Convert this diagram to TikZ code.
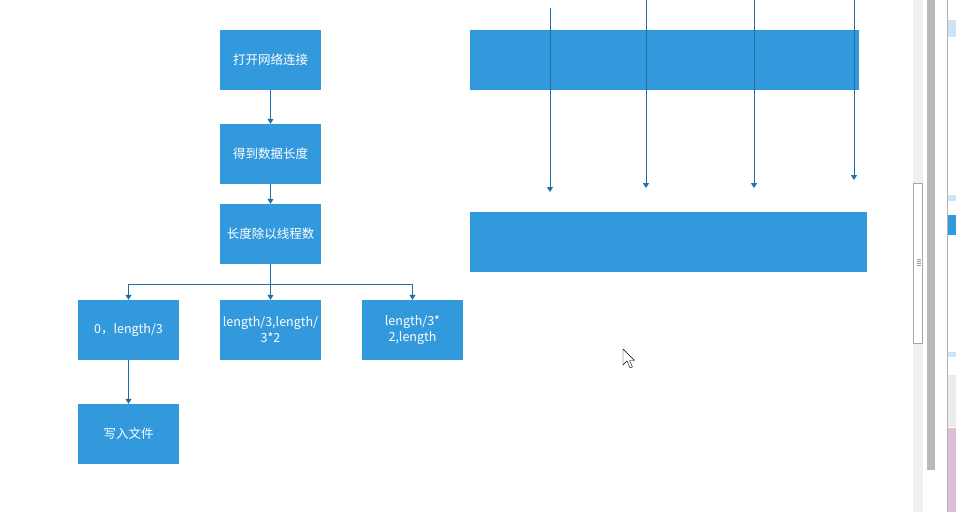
\documentclass[tikz,border=0pt]{standalone}
\usepackage{fontspec}
\setmainfont{Noto Sans CJK SC}
\usetikzlibrary{arrows.meta}
\definecolor{boxblue}{RGB}{51,153,221}
\definecolor{linkblue}{RGB}{30,110,170}
\definecolor{barpale}{RGB}{205,228,245}
\definecolor{barpink}{RGB}{222,190,215}
\tikzset{
  stepbox/.style={fill=boxblue, text=white, minimum width=101pt, minimum height=60pt,
    inner sep=0pt, align=center, font=\fontsize{12.5}{16}\selectfont},
  link/.style={draw=linkblue, line width=1pt, -{Triangle[width=6pt,length=5pt]}}
}
\begin{document}
\begin{tikzpicture}[x=1pt, y=-1pt]
  \useasboundingbox (0,0) rectangle (956,512);
  % left flow
  \node[stepbox] (open)   at (270.5,60)  {打开网络连接};
  \node[stepbox] (size)   at (270.5,154) {得到数据长度};
  \node[stepbox] (divide) at (270.5,234) {长度除以线程数};
  \node[stepbox] (part1)  at (128.5,330) {0，length/3};
  \node[stepbox] (part2)  at (270.5,330) {length/3,length/\\3*2};
  \node[stepbox] (part3)  at (412.5,330) {length/3*\\2,length};
  \node[stepbox] (write)  at (128.5,434) {写入文件};
  \draw[link] (open) -- (size);
  \draw[link] (size) -- (divide);
  \foreach \n in {part1,part2,part3} \draw[link] (divide.south) -- ++(0,20) -| (\n.north);
  \draw[link] (part1) -- (write);
  % right side bars
  \node[stepbox, minimum width=389pt] (pool) at (664.5,60) {};
  \node[stepbox, minimum width=397pt] (file) at (668.5,242) {};
  \foreach \i/\x/\t/\b in {1/550/8/192, 2/646/0/188, 3/754/0/188, 4/854/0/180} {
    \coordinate (s\i) at (\x,\t);
    \coordinate (e\i) at (\x,\b);
    \draw[link] (s\i) -- (e\i);
  }
  % window edge
  \fill[gray!12] (913,0) rectangle (923,512);
  \draw[gray!70, fill=white] (913.5,183) rectangle (922.5,343);
  \foreach \y in {259,261,263,265} \draw[gray!80] (917,\y) -- (921,\y);
  \fill[gray!55] (927,0) rectangle (935,470);
  \draw[gray!60] (947,0) -- (947,512);
  \fill[barpale] (948,20) rectangle (956,37);
  \fill[barpale] (948,195) rectangle (956,201);
  \fill[boxblue] (948,215) rectangle (956,235);
  \fill[barpale] (948,352) rectangle (956,357);
  \fill[gray!15] (948,375) rectangle (956,427);
  \fill[barpink] (948,428) rectangle (956,512);
  % pointer
  \draw[black, fill=white, line join=round] (623,349) -- (623,365) -- (627,361) -- (630,368)
    -- (632.5,367) -- (629.5,360.5) -- (634.5,360.5) -- cycle;
\end{tikzpicture}
\end{document}
